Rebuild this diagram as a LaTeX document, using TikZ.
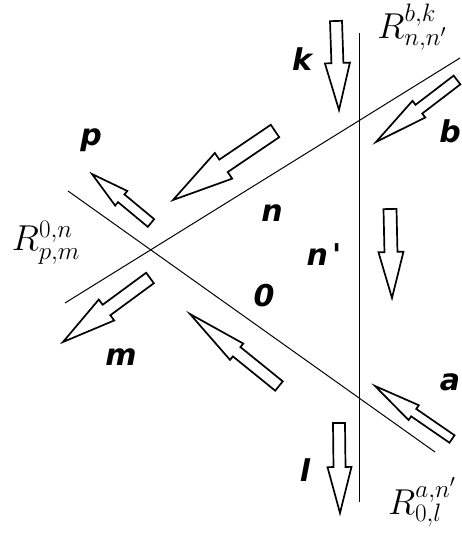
\RequirePackage{fix-cm}
\documentclass[tikz,border=0pt]{standalone}
\usepackage{fontspec}
\usetikzlibrary{calc}
\newfontfamily\lblfont{DejaVu Sans}
\newcommand\blockarrow[5]{% #1 tail, #2 tip, #3 shaft width, #4 head width, #5 head length
  \coordinate (ba-h) at ($(#2)!#5!(#1)$);
  \draw[arrowline]
    ($(#1)!#3*0.5!90:(#2)$) -- ($(ba-h)!#3*0.5!90:(#2)$) -- ($(ba-h)!#4*0.5!90:(#2)$)
    -- (#2)
    -- ($(ba-h)!#4*0.5!-90:(#2)$) -- ($(ba-h)!#3*0.5!-90:(#2)$) -- ($(#1)!#3*0.5!-90:(#2)$) -- cycle;
}
\begin{document}
\begin{tikzpicture}[x=1pt,y=1pt,
  thinline/.style={line width=1pt, black},
  arrowline/.style={line width=1.7pt, black, fill=white},
  letter/.style={font=\fontsize{30}{34}\selectfont\lblfont\bfseries\itshape, inner sep=0pt},
  rlabel/.style={font=\fontsize{36}{42}\selectfont, inner sep=0pt}]
\useasboundingbox (0,0) rectangle (461,533);
% lines
\coordinate (vt) at (359,500);
\coordinate (vb) at (359,31);
\coordinate (nr) at (460,475);
\coordinate (nl) at (65,230);
\coordinate (zl) at (68,342);
\coordinate (zr) at (435,81);
\draw[thinline] (vt) -- (vb);
\draw[thinline] (nr) -- (nl);
\draw[thinline] (zl) -- (zr);
% arrow end points
\coordinate (k1) at (336,512); \coordinate (k2) at (339,423);
\coordinate (np1) at (390,324); \coordinate (np2) at (392,235);
\coordinate (l1) at (339,110); \coordinate (l2) at (340,20);
\coordinate (b1) at (457,453); \coordinate (b2) at (376,391);
\coordinate (n1) at (275,402); \coordinate (n2) at (173,333);
\coordinate (p1) at (151,310); \coordinate (p2) at (92,359);
\coordinate (m1) at (150,255); \coordinate (m2) at (63,191);
\coordinate (o1) at (279,147); \coordinate (o2) at (190,219);
\coordinate (a1) at (452,94); \coordinate (a2) at (375,147);
\blockarrow{k1}{k2}{12pt}{25pt}{47pt}
\blockarrow{np1}{np2}{13pt}{25pt}{46pt}
\blockarrow{l1}{l2}{12pt}{24pt}{46pt}
\blockarrow{b1}{b2}{11pt}{21pt}{54pt}
\blockarrow{n1}{n2}{15pt}{31pt}{61pt}
\blockarrow{p1}{p2}{10pt}{19pt}{38pt}
\blockarrow{m1}{m2}{13pt}{26pt}{54pt}
\blockarrow{o1}{o2}{12pt}{21pt}{60pt}
\blockarrow{a1}{a2}{9pt}{18pt}{47pt}
% letters
\node[letter] (lk) at (302,474) {k};
\node[letter] (lb) at (450,402) {b};
\node[letter] (lp) at (91,393) {p};
\node[letter] (ln) at (272,320) {n};
\node[letter] (lnp) at (324,278) {n\hspace{4pt}'};
\node[letter] (lo) at (264,237) {0};
\node[letter] (lm) at (121,176) {m};
\node[letter] (la) at (450,151) {a};
\node[letter] (ll) at (305,63) {l};
% R labels
\node[rlabel] (rbk) at (412,506) {$R^{b,k}_{n,n'}$};
\node[rlabel] (ron) at (46,290) {$R^{0,n}_{p,m}$};
\node[rlabel] (ran) at (422,31) {$R^{a,n'}_{0,l}$};
\end{tikzpicture}
\end{document}
